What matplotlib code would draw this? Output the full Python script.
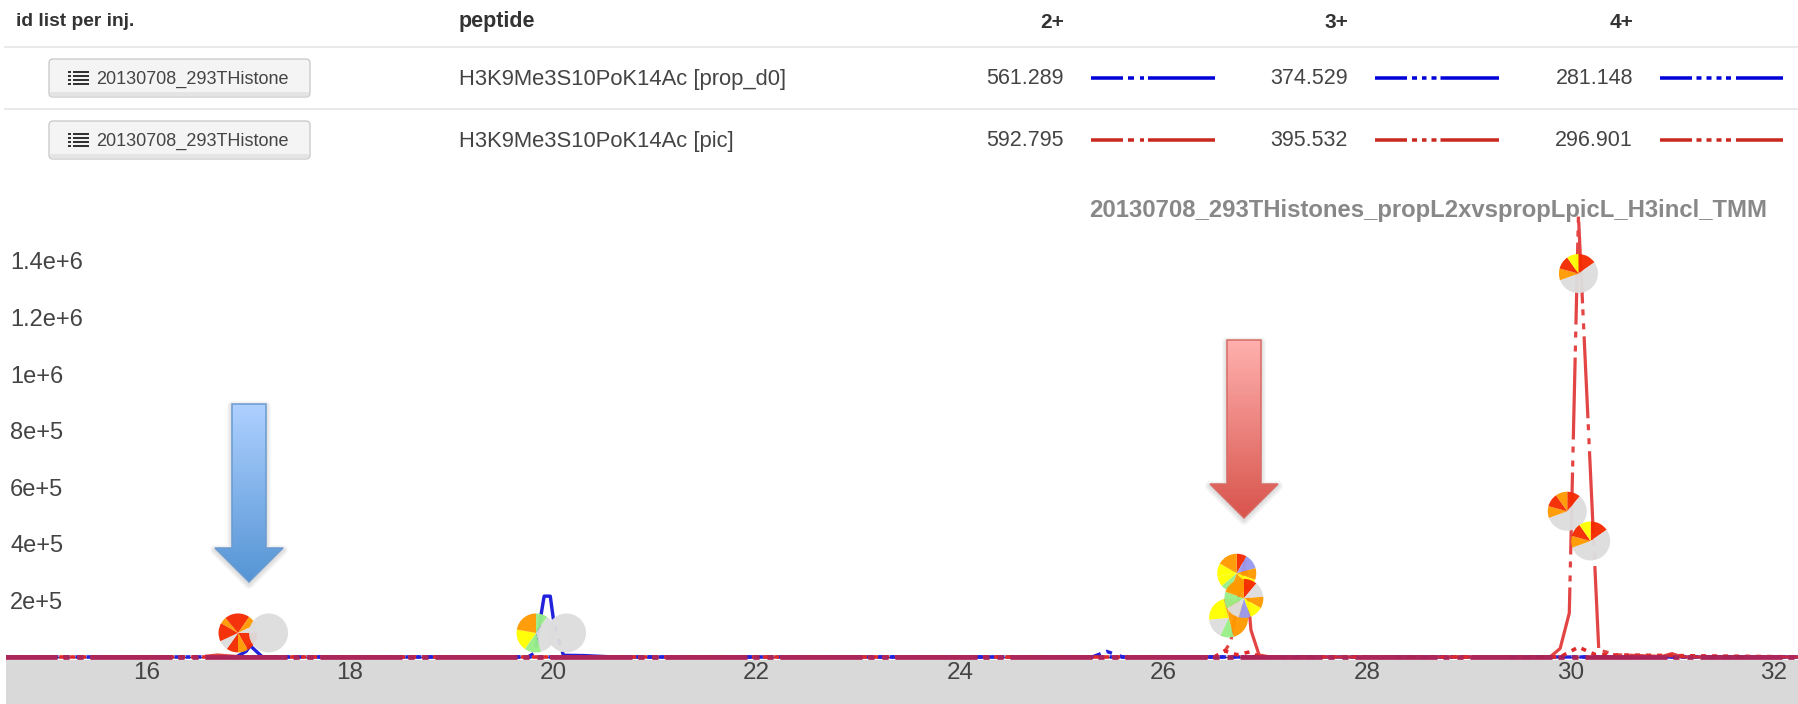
import numpy as np
import matplotlib
matplotlib.use("Agg")
import matplotlib.pyplot as plt
from matplotlib.patches import Rectangle, FancyBboxPatch, Polygon
from matplotlib.lines import Line2D

plt.rcParams['font.family'] = ['Liberation Sans', 'DejaVu Sans']
plt.rcParams['lines.scale_dashes'] = False

# ---------- data ----------
header_id = "id list per inj."
header_peptide = "peptide"
charge_labels = ["2+", "3+", "4+"]
injection_names = ["20130708_293THistone", "20130708_293THistone"]
peptides = ["H3K9Me3S10PoK14Ac [prop_d0]", "H3K9Me3S10PoK14Ac [pic]"]
mz_prop = ["561.289", "374.529", "281.148"]
mz_pic = ["592.795", "395.532", "296.901"]
chart_title = "20130708_293THistones_propL2xvspropLpicL_H3incl_TMM"

y_ticks = [200000, 400000, 600000, 800000, 1000000, 1200000, 1400000]
y_tick_labels = ["2e+5", "4e+5", "6e+5", "8e+5", "1e+6", "1.2e+6", "1.4e+6"]
x_ticks = [16, 18, 20, 22, 24, 26, 28, 30, 32]

blue_2_rt = [14.6, 16.88, 16.98, 17.02, 17.08, 17.14, 19.75, 19.82, 19.88, 19.91, 19.97, 20.01, 20.1, 20.3, 20.6, 25.3, 25.44, 25.6, 32.3]
blue_2_int = [0, 0, 20000, 40000, 20000, 0, 0, 15000, 150000, 215000, 215000, 110000, 6000, 5000, 0, 0, 20000, 0, 0]
blue_3_rt = [14.6, 32.3]
blue_3_int = [0, 0]
blue_4_rt = [14.6, 32.3]
blue_4_int = [0, 0]

red_2_rt = [14.6, 16.5, 16.7, 16.95, 26.5, 26.6, 26.66, 26.8, 26.86, 26.94, 27.05, 29.8, 29.9, 29.99, 30.08, 30.28, 30.45, 30.9, 31.0, 31.1, 32.3]
red_2_int = [0, 0, 7000, 0, 0, 20000, 52000, 340000, 95000, 7000, 0, 0, 30000, 155000, 1560000, 25000, 8000, 2000, 12000, 0, 0]
red_3_rt = [14.6, 32.3]
red_3_int = [0, 0]
red_4_rt = [14.6, 26.5, 26.6, 26.72, 26.85, 26.95, 29.9, 30.08, 30.25, 32.3]
red_4_int = [0, 0, 22000, 8000, 18000, 0, 0, 35000, 8000, 0]

pie_rt = [16.9, 17.2, 19.83, 20.13, 26.72, 26.64, 26.79, 30.08, 29.97, 30.2]
pie_int = [85000, 85000, 85000, 85000, 296000, 138000, 207000, 1355000, 515000, 410000]
RED, ORA, YEL, GRN, LAV, GRY = "#f52a00", "#ff9900", "#ffff00", "#99ee88", "#9999ee", "#dddddd"
pie_values = [
    [35, 30, 25, 60, 30, 35, 30, 55, 20, 40],
    [360],
    [35, 130, 50, 65, 80],
    [360],
    [30, 45, 35, 30, 60, 30, 30, 40, 60],
    [90, 75, 40, 60, 80, 15],
    [40, 45, 35, 40, 35, 45, 50, 70],
    [55, 195, 35, 40, 35],
    [40, 210, 35, 40, 35],
    [55, 195, 35, 40, 35],
]
pie_colors = [
    [RED, ORA, GRY, RED, ORA, RED, GRY, RED, ORA, RED],
    [GRY],
    [GRN, GRY, GRN, YEL, ORA],
    [GRY],
    [RED, LAV, ORA, YEL, ORA, GRN, YEL, YEL, ORA],
    [ORA, ORA, GRN, GRY, YEL, ORA],
    [RED, GRY, ORA, YEL, LAV, GRY, GRN, ORA],
    [RED, GRY, ORA, RED, YEL],
    [RED, GRY, ORA, RED, ORA],
    [RED, GRY, ORA, RED, YEL],
]

# ---------- figure ----------
W, H = 1798, 704
fig = plt.figure(figsize=(W / 100, H / 100), dpi=100, facecolor="white")
PX = 0.72  # points per pixel

over = fig.add_axes([0, 0, 1, 1], zorder=5)
over.set_xlim(0, W)
over.set_ylim(H, 0)
over.axis("off")
over.patch.set_alpha(0)

band = fig.add_axes([0, 0, 1, 1], zorder=0)
band.set_xlim(0, W); band.set_ylim(H, 0); band.axis("off")
band.add_patch(Rectangle((6, 660), W - 6, 44, facecolor="#d9d9d9", edgecolor="none"))

AX_L, AX_R, AX_T, AX_B = 6, 1798, 190, 660
ax = fig.add_axes([AX_L / W, 1 - AX_B / H, (AX_R - AX_L) / W, (AX_B - AX_T) / H], zorder=2)
ax.patch.set_alpha(0)
PX_X = 101.7
PX_Y = 56.6 / 2e5
ax.set_xlim(16 - (146.5 - AX_L) / PX_X, 16 + (AX_R - 146.5) / PX_X)
ax.set_ylim(-(AX_B - 657) / PX_Y, (657 - AX_T) / PX_Y)
for s in ax.spines.values():
    s.set_visible(False)
ax.set_xticks(x_ticks)
ax.set_yticks(y_ticks)
ax.set_yticklabels(y_tick_labels)
ax.tick_params(axis="both", length=0, labelcolor="#444444")
ax.tick_params(axis="x", pad=1.5, labelsize=17.5)
ax.tick_params(axis="y", pad=-3, labelsize=17)
for lab in ax.get_yticklabels():
    lab.set_ha("left")

def pat(*px, off=0):
    return (off * PX, tuple(p * PX for p in px))

long_pat = pat(82, 6, 6, 8, 6, 7, off=29)
dots = pat(5, 6)
dots_b = pat(5, 6, off=5.5)
BLUE, LRED = "#2222dd", "#e02a2a"
kw = dict(solid_capstyle="butt", dash_capstyle="butt")
ax.axhline(0, color="#444444", lw=1 * PX, zorder=1)
ax.plot(blue_4_rt, blue_4_int, color=BLUE, ls=dots_b, lw=3.6 * PX, zorder=2, **kw)
ax.plot(blue_2_rt, blue_2_int, color=BLUE, ls=long_pat, lw=3.4 * PX, zorder=2, **kw)
ax.plot(red_4_rt, red_4_int, color=LRED, ls=dots, lw=3.6 * PX, zorder=3, **kw)
ax.plot(red_3_rt, red_3_int, color="#dd2222", ls=long_pat, lw=4.6 * PX, zorder=3, **kw)
ax.plot(red_2_rt, red_2_int, color=LRED, ls=long_pat, lw=3.2 * PX, alpha=.88, zorder=3, **kw)
ax.plot(blue_3_rt, blue_3_int, color=BLUE, ls=long_pat, lw=4.6 * PX, alpha=.28, zorder=3.5, **kw)

# pies
pr_x = 19.5 / PX_X
pr_y = 19.5 / PX_Y
for i, (rt, inten, vals, cols) in enumerate(zip(pie_rt, pie_int, pie_values, pie_colors)):
    ia = ax.inset_axes([rt - pr_x, inten - pr_y, 2 * pr_x, 2 * pr_y], transform=ax.transData, zorder=4 + i * .01)
    ia.pie(vals, colors=cols, startangle=90, counterclock=False, radius=1,
           wedgeprops=dict(linewidth=0, alpha=.96))
    ia.set_xlim(-1, 1); ia.set_ylim(-1, 1)
    ia.set_aspect("auto")
    ia.axis("off")

# table
TXT = "#444444"
over.text(16, 22, header_id, fontsize=13.8, fontweight="bold", color="#333333", ha="left", va="center")
over.text(459, 22, header_peptide, fontsize=15.5, fontweight="bold", color="#333333", ha="left", va="center")
col_right = [1064, 1348, 1633]
leg_start = [1091, 1375, 1660]
leg_end = [1215, 1499, 1783]
patterns = [pat(32, 5, 6, 6, 4, 4, 100, 10),
            pat(32, 5, 5, 5, 4.5, 5, 5, 4, 100, 10),
            pat(32, 4.5, 5, 5, 5, 5, 5, 4.5, 5, 5, 100, 10)]
for lab, xr in zip(charge_labels, col_right):
    over.text(xr, 22, lab, fontsize=15, fontweight="bold", color="#333333", ha="right", va="center")

for yline in (46.5, 108.5):
    over.add_line(Line2D([5, W], [yline, yline], color="#e2e2e2", lw=1.5 * PX))

for row, (name, pep, mzs, col, cy) in enumerate(zip(injection_names, peptides, [mz_prop, mz_pic], ["#0000d8", "#c8281e"], [78, 140])):
    over.add_patch(FancyBboxPatch((49, cy - 19), 261, 38, boxstyle="round,pad=0,rounding_size=4",
                                  facecolor="#f4f4f4", edgecolor="#c4c4c4", lw=1.2 * PX))
    over.add_patch(FancyBboxPatch((50, cy + 14), 259, 4.5, boxstyle="round,pad=0,rounding_size=2",
                                  facecolor="#e4e4e4", edgecolor="none"))
    for dy in (-6, -2, 2, 6):
        over.add_patch(Rectangle((68, cy + dy - 1.2), 3, 2.6, facecolor="#333333", edgecolor="none"))
        over.add_patch(Rectangle((72.5, cy + dy - 1.2), 16, 2.6, facecolor="#333333", edgecolor="none"))
    over.text(96, cy + 1, name, fontsize=13, color=TXT, ha="left", va="center")
    over.text(459, cy + 1, pep, fontsize=15.8, color=TXT, ha="left", va="center")
    for mz, xr, xs, xe, p in zip(mzs, col_right, leg_start, leg_end, patterns):
        over.text(xr, cy + 1, mz, fontsize=15.5, color=TXT, ha="right", va="center")
        over.add_line(Line2D([xs, xe], [cy, cy], color=col, lw=3.5 * PX, ls=p, dash_capstyle="butt"))

over.text(1089, 210, chart_title, fontsize=17.2, fontweight="bold", color="#888888", ha="left", va="center")

# arrows with gradient
def arrow(cx, top, neck, tip, half_shaft, half_head, c_top, c_bot, edge):
    pts = [(cx - half_shaft, top), (cx + half_shaft, top), (cx + half_shaft, neck),
           (cx + half_head, neck), (cx, tip), (cx - half_head, neck), (cx - half_shaft, neck)]
    for w in (2, 4, 6, 8, 10):
        over.add_patch(Polygon([(x, y + 2) for x, y in pts], closed=True, facecolor="none",
                               edgecolor="#777777", alpha=.05, lw=w * PX, joinstyle="round"))
    c0 = np.array(matplotlib.colors.to_rgb(c_top)); c1 = np.array(matplotlib.colors.to_rgb(c_bot))
    t = np.linspace(0, 1, 128)[:, None, None]
    img = (1 - t) * c0[None, None, :] + t * c1[None, None, :]
    im = over.imshow(img, extent=(cx - half_head, cx + half_head, tip, top), aspect="auto", zorder=3)
    poly = Polygon(pts, closed=True, facecolor="none", edgecolor=edge, lw=1.5 * PX, zorder=4)
    over.add_patch(poly)
    im.set_clip_path(poly)
    over.set_xlim(0, W); over.set_ylim(H, 0)

arrow(249, 404, 548, 582, 17, 34, "#aed0ff", "#5595d5", "#6a9bd0")
arrow(1244, 340, 484, 518, 17, 34, "#ffb0ae", "#d8544c", "#d86a64")

fig.savefig("out.png", dpi=100)
